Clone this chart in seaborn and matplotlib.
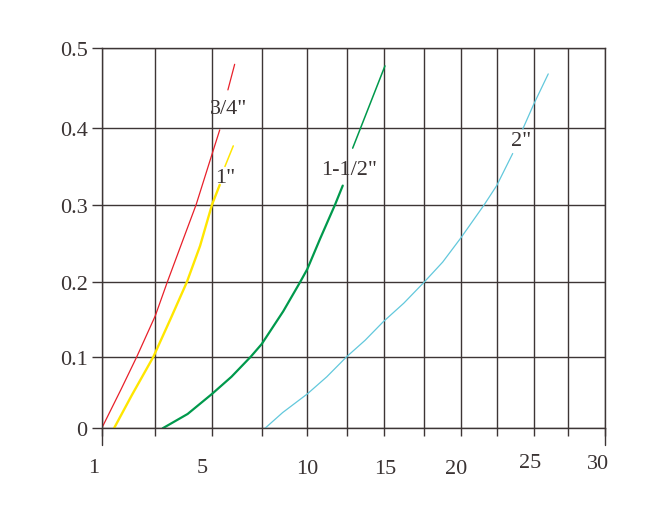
"""
Head loss vs flow chart for four pipe sizes (3/4", 1", 1-1/2", 2").
Non-uniform flow axis, recreated with a piecewise scale.
"""

import numpy as np
import matplotlib.pyplot as plt
from matplotlib.transforms import ScaledTranslation
import seaborn as sns

# ── Data ─────────────────────────────────────────────────────────────────────
FLOW_TICKS = [1, 5, 10, 15, 20, 25, 30]
FLOW_MINOR = [3, 7.5, 12.5, 17.5, 22.5, 27.5]
LOSS_TICKS = [0, 0.1, 0.2, 0.3, 0.4, 0.5]
LOSS_TICK_LABELS = ["0", "0.1", "0.2", "0.3", "0.4", "0.5"]

SIZE_LABELS = ['3/4"', '1"', '1-1/2"', '2"']

# nan = gap left in the curve for its label
FLOW_34 = [1.0, 1.73, 2.31, 3.0, 3.42, 3.99, 4.44, 5.0, 5.39, np.nan, 5.80, 6.14]
LOSS_34 = [0.0, 0.055, 0.1, 0.155, 0.2, 0.256, 0.3, 0.366, 0.398, np.nan, 0.448, 0.48]

FLOW_1 = [1.46, 2.12, 2.93, 3.54, 4.11, 4.58, 5.0, 5.39, np.nan, 5.65, 6.07]
LOSS_1 = [0.0, 0.046, 0.1, 0.151, 0.2, 0.247, 0.3, 0.326, np.nan, 0.35, 0.377]

FLOW_112 = [3.26, 4.14, 5.0, 5.98, 6.95, 7.5, 8.68, 9.6, 10.0, 10.81, 11.76, 12.25,
            np.nan, 12.9, 15.06]
LOSS_112 = [0.0, 0.02, 0.048, 0.072, 0.1, 0.117, 0.161, 0.2, 0.217, 0.256, 0.3, 0.325,
            np.nan, 0.374, 0.478]

FLOW_2 = [7.68, 8.65, 10.0, 11.24, 12.5, 13.73, 14.95, 16.24, 17.5, 18.75, 20.0, 21.62,
          22.5, 23.58, np.nan, 24.26, 25.0, 26.06]
LOSS_2 = [0.0, 0.022, 0.048, 0.072, 0.1, 0.122, 0.147, 0.172, 0.2, 0.226, 0.258, 0.3,
          0.325, 0.367, np.nan, 0.399, 0.43, 0.468]

# ── Axis scale (the printed grid is not evenly spaced) ───────────────────────
X_KNOT_VALS = [1, 3, 5, 7.5, 10, 12.5, 15, 17.5, 20, 22.5, 25, 27.5, 30]
X_KNOT_POS = [0, 53.6, 110.3, 160, 205.6, 245, 282.3, 322.3, 359.6, 395, 432, 466.3, 503.6]
Y_KNOT_VALS = [0, 0.1, 0.2, 0.3, 0.4, 0.5]
Y_KNOT_POS = [0, 71.6, 146, 223.6, 300, 380]

# ── Style ────────────────────────────────────────────────────────────────────
sns.set_style("white")
plt.rcParams["font.family"] = ["Liberation Serif", "DejaVu Serif"]
GRID = "#3d3535"
TEXT = "#3a3333"
STYLES = [
    ("#e8202a", 0.9, 0.9),   # color, lower width, upper width
    ("#ffe600", 1.7, 1.1),
    ("#00994c", 1.6, 1.1),
    ("#62c8dc", 0.9, 0.9),
]
LABEL_POS = [(5.82, 0.425), (5.65, 0.335), (12.63, 0.346), (24.13, 0.384)]
XLABEL_SHIFT = [(-8, 0), (-9.5, 0), (0, -1), (1, -1), (-5, -1), (-3.5, 5), (-7.5, 4)]


def segments(xs, ys):
    xs, ys = np.asarray(xs, float), np.asarray(ys, float)
    breaks = np.where(np.isnan(xs))[0]
    parts, start = [], 0
    for b in list(breaks) + [len(xs)]:
        parts.append((xs[start:b], ys[start:b]))
        start = b + 1
    return parts


fig = plt.figure(figsize=(6.63, 5.06), dpi=100)
ax = fig.add_axes([101.7 / 663, (506 - 429.3) / 506, 503.6 / 663, 380 / 506])

curves = [(FLOW_34, LOSS_34), (FLOW_1, LOSS_1), (FLOW_112, LOSS_112), (FLOW_2, LOSS_2)]
for (xs, ys), (color, lw_lo, lw_hi) in zip(curves, STYLES):
    for i, (sx, sy) in enumerate(segments(xs, ys)):
        sns.lineplot(x=sx, y=sy, ax=ax, color=color,
                     linewidth=lw_lo if i == 0 else lw_hi,
                     sort=False, estimator=None)

ax.set_xscale("function", functions=(lambda v: np.interp(v, X_KNOT_VALS, X_KNOT_POS),
                                     lambda p: np.interp(p, X_KNOT_POS, X_KNOT_VALS)))
ax.set_yscale("function", functions=(lambda v: np.interp(v, Y_KNOT_VALS, Y_KNOT_POS),
                                     lambda p: np.interp(p, Y_KNOT_POS, Y_KNOT_VALS)))
ax.set_xlim(1, 30)
ax.set_ylim(0, 0.5)

ax.set_xticks(FLOW_TICKS)
ax.set_xticklabels([str(t) for t in FLOW_TICKS])
ax.set_xticks(FLOW_MINOR, minor=True)
ax.set_yticks(LOSS_TICKS)
ax.set_yticklabels(LOSS_TICK_LABELS)
ax.set_xlabel("")
ax.set_ylabel("")

ax.grid(axis="x", which="both", color=GRID, linewidth=1.0)
ax.grid(axis="y", which="major", color=GRID, linewidth=1.0)
for side in ["left", "right", "top", "bottom"]:
    ax.spines[side].set_visible(True)
    ax.spines[side].set_color(GRID)
    ax.spines[side].set_linewidth(1.0)

ax.tick_params(axis="x", which="both", direction="out", length=5.4, width=1.0,
               color=GRID, pad=16, labelsize=16, labelcolor=TEXT, bottom=True)
ax.tick_params(axis="y", which="major", direction="out", length=7.2, width=1.0,
               color=GRID, pad=3, labelsize=16, labelcolor=TEXT, left=True)

# the outer verticals run a bit further down than the other ticks
for xv in [FLOW_TICKS[0], FLOW_TICKS[-1]]:
    ax.axvline(xv, ymin=-0.045, ymax=0, color=GRID, linewidth=1.0, clip_on=False)

for lab, (dx, dy) in zip(ax.get_xticklabels(), XLABEL_SHIFT):
    lab.set_transform(lab.get_transform() + ScaledTranslation(dx / 100, dy / 100, fig.dpi_scale_trans))

for text, (tx, ty) in zip(SIZE_LABELS, LABEL_POS):
    ax.text(tx, ty, text, ha="center", va="center", fontsize=16, color=TEXT)

fig.savefig("out.png", dpi=100)
